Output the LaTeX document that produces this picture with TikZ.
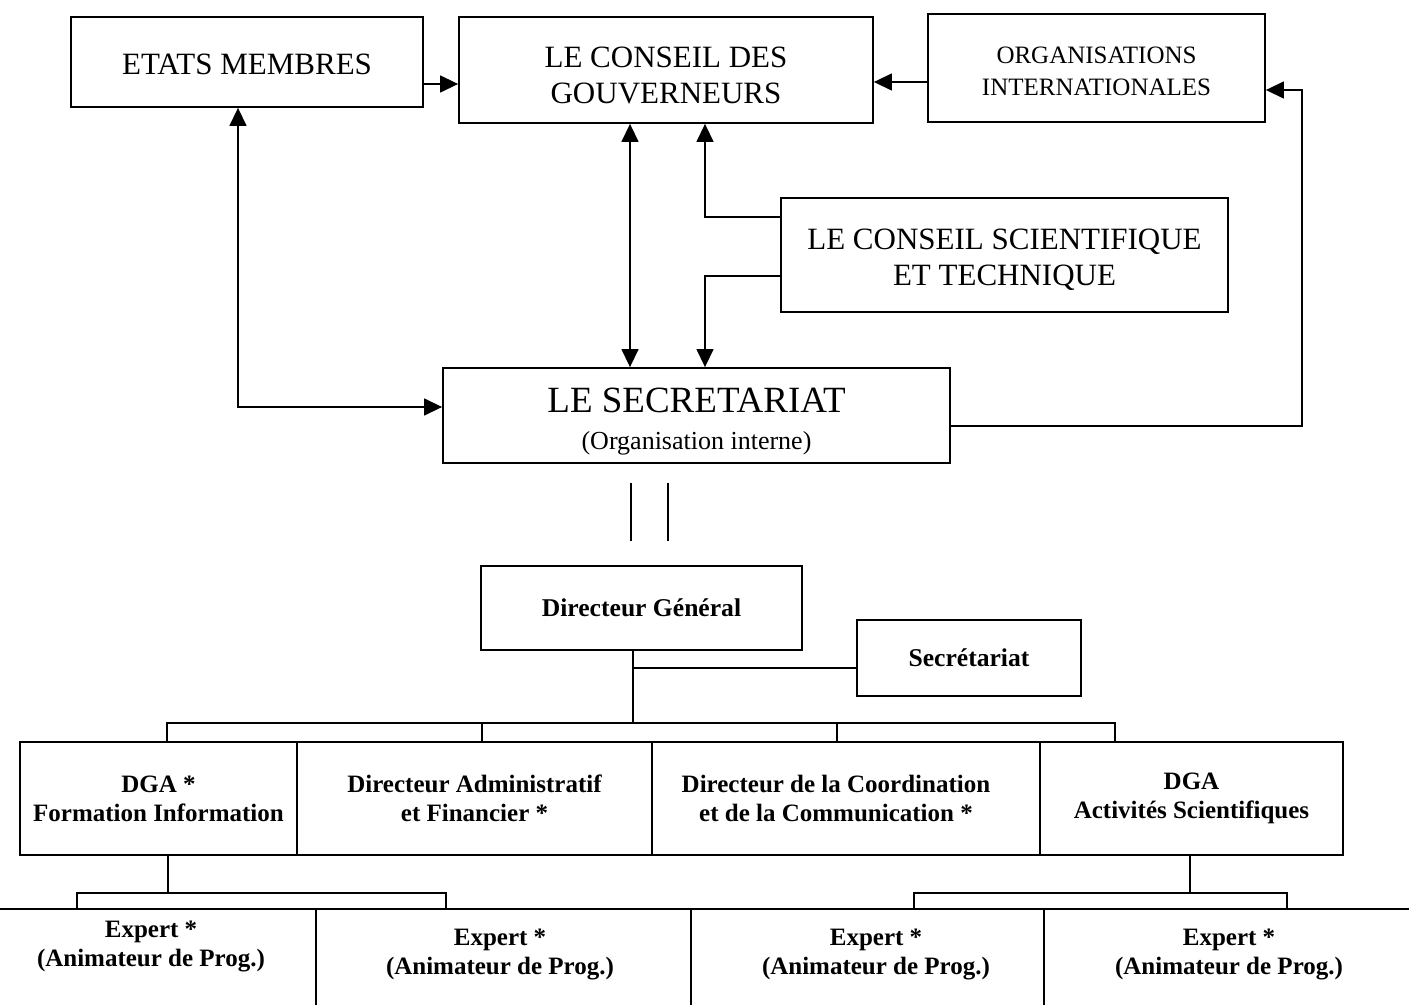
\documentclass[tikz,border=0pt]{standalone}
\usepackage{fontspec}
\setmainfont{Liberation Serif}
\usetikzlibrary{arrows.meta}
\begin{document}
\begin{tikzpicture}[x=0.5pt,y=-0.5pt,
  box/.style={draw, line width=0.9pt, rectangle, inner sep=0pt, align=center},
  txt/.style={inner sep=0pt, align=center},
  rowbox/.style={box, line width=1.1pt, minimum height=56.5pt, font=\bfseries\fontsize{12.5}{14.5}\selectfont},
  extext/.style={align=center, inner sep=0pt, font=\bfseries\fontsize{12.5}{14.5}\selectfont},
  big/.style={font=\fontsize{15.5}{18}\selectfont},
  mid/.style={font=\fontsize{12.5}{16}\selectfont},
  bold/.style={font=\bfseries\fontsize{12.8}{15}\selectfont},
  conn/.style={line width=0.7pt},
  tip/.tip={Triangle[length=9pt,width=8.5pt]},
  arr/.style={conn, -tip},
  arrb/.style={conn, tip-tip}
]
\useasboundingbox (0,0) rectangle (1409,1005);

% top level boxes
\node[box, minimum width=176pt, minimum height=45pt] (etats) at (247,62) {};
\node[txt, big] (etatsT) at ([yshift=-1pt]etats.center) {ETATS MEMBRES};
\node[box, minimum width=207pt, minimum height=53pt] (conseil) at (666,70) {};
\node[txt, big] (conseilT) at ([yshift=-2.5pt]conseil.center) {LE CONSEIL DES\\GOUVERNEURS};
\node[box, minimum width=168.5pt, minimum height=54pt] (orga) at (1096.5,68) {};
\node[txt, mid] (orgaT) at ([yshift=-1.5pt]orga.center) {ORGANISATIONS\\INTERNATIONALES};
\node[box, minimum width=223.5pt, minimum height=57pt] (cst) at (1004.5,255) {};
\node[txt, big] (cstT) at ([yshift=-2.5pt]cst.center) {LE CONSEIL SCIENTIFIQUE\\ET TECHNIQUE};
\node[box, minimum width=253.5pt, minimum height=47.5pt] (secr) at (696.5,415.5) {};
\node[txt, font=\fontsize{13}{18.5}\selectfont] (secrT) at ([yshift=-3pt]secr.center)
  {{\fontsize{18.5}{21}\selectfont LE SECRETARIAT}\\(Organisation interne)};

% connectors of the top part
\draw[arr] ([yshift=-11pt]etats.east) -- ([yshift=-11pt]etats.east -| conseil.west);
\draw[arr] ([yshift=-7pt]orga.west) -- ([yshift=-7pt]orga.west -| conseil.east);
\coordinate (rx) at (1302,0);
\coordinate (orgaE) at ([yshift=-11pt]orga.east);
\draw[arr] ([yshift=-5.25pt]secr.east) -| (rx |- orgaE) -- (orgaE);
\draw[arrb] ([xshift=-4.5pt]etats.south) |- ([yshift=4.25pt]secr.west);
\draw[arrb] ([xshift=-18pt]conseil.south) -- ([xshift=-18pt]conseil.south |- secr.north);
\draw[arr] ([yshift=19pt]cst.west) -| ([xshift=19.5pt]conseil.south);
\draw[arr] ([yshift=-10.5pt]cst.west) -| ([xshift=4.25pt]secr.north);

% double line
\draw[conn] ([xshift=-32.75pt,yshift=-9.5pt]secr.south) -- ++(0,58);
\draw[conn] ([xshift=-14.25pt,yshift=-9.5pt]secr.south) -- ++(0,58);

% organisation interne
\node[box, bold, minimum width=160.5pt, minimum height=42pt] (dg) at (641.5,608) {Directeur Général};
\node[box, bold, minimum width=112pt, minimum height=38pt] (sec2) at (969,658) {Secrétariat};

\node[rowbox, minimum width=138.5pt] (r1) at (158.5,798.5) {DGA *\\Formation Information};
\node[rowbox, minimum width=177.5pt] (r2) at (474.5,798.5) {Directeur Administratif\\et Financier *};
\node[rowbox, minimum width=194pt] (r3) at (846,798.5) {Directeur de la Coordination\hspace*{10pt}\\et de la Communication *\hspace*{10pt}};
\node[rowbox, minimum width=151.5pt] (r4) at (1191.5,798.5) {DGA\\Activités Scientifiques};

\coordinate (hub) at (633,723);
\draw[conn] (dg.south -| hub) -- (hub);
\draw[conn] ([yshift=-5pt]sec2.west) -- ([yshift=-5pt]sec2.west -| hub);
\coordinate (s1) at ([xshift=4.25pt]r1.north);
\coordinate (s2) at ([xshift=3.75pt]r2.north);
\coordinate (s3) at ([xshift=-4.5pt]r3.north);
\coordinate (s4) at ([xshift=-38.25pt]r4.north);
\draw[conn] (s1) |- (hub) -| (s4);
\draw[conn] (s2) -- (s2 |- hub);
\draw[conn] (s3) -- (s3 |- hub);

% experts
\node[extext] (e1) at (151,947) {Expert *\\(Animateur de Prog.)};
\node[extext] (e2) at (500,955) {Expert *\\(Animateur de Prog.)};
\node[extext] (e3) at (876,955) {Expert *\\(Animateur de Prog.)};
\node[extext] (e4) at (1229,955) {Expert *\\(Animateur de Prog.)};
\draw[line width=1.1pt] (0,909) -- (1409,909);
\draw[line width=0.9pt] (316,909) -- (316,1005);
\draw[line width=0.9pt] (691,909) -- (691,1005);
\draw[line width=0.9pt] (1044,909) -- (1044,1005);

\coordinate (lb) at ([xshift=4.75pt]r1.south |- 0,893);
\draw[conn] ([xshift=4.75pt]r1.south) -- (lb);
\draw[conn] (77,909) |- (lb) -| (446,909);
\coordinate (rb) at ([xshift=-0.75pt]r4.south |- 0,893);
\draw[conn] ([xshift=-0.75pt]r4.south) -- (rb);
\draw[conn] (914,909) |- (rb) -| (1287,909);
\end{tikzpicture}
\end{document}
